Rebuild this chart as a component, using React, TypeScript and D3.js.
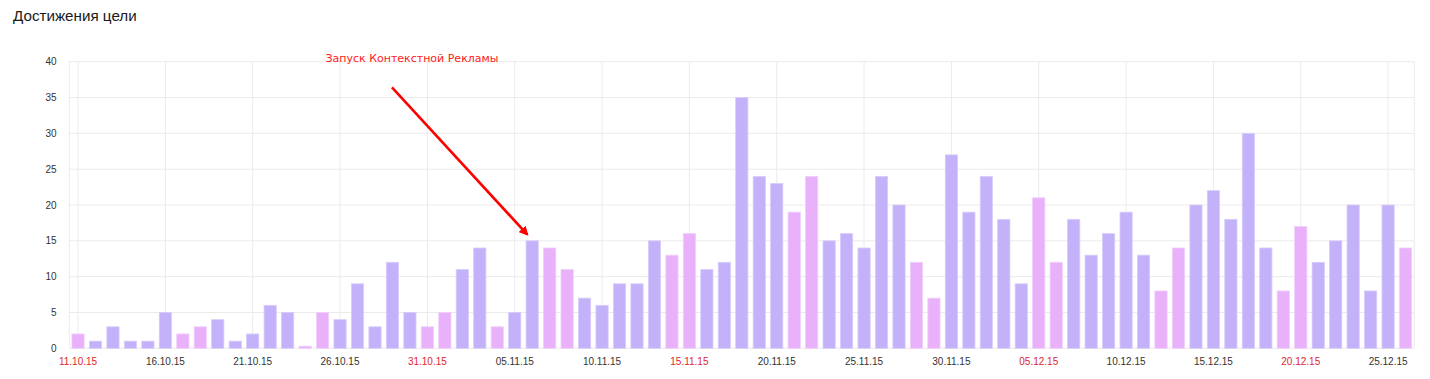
import React from "react";
import * as d3 from "d3";

const TITLE = "Достижения цели";
const ANNOTATION = "Запуск Контекстной Рекламы";
const START_DATE = "2015-10-11";
const END_DATE = "2015-12-26";
const HOLIDAYS = ["04.11.15"];
const values = [
  2, 1, 3, 1, 1, 5, 2, 3, 4, 1, 2, 6, 5, 0.3, 5, 4, 9, 3, 12, 5, 3,
  5, 11, 14, 3, 5, 15, 14, 11, 7, 6, 9, 9, 15, 13, 16, 11, 12, 35, 24, 23, 19, 24, 15, 16, 14, 24, 20, 12, 7,
  27, 19, 24, 18, 9, 21, 12, 18, 13, 16, 19, 13, 8, 14, 20, 22, 18, 30, 14, 8, 17, 12, 15, 20, 8, 20, 14,
];
const yTicks = [0, 5, 10, 15, 20, 25, 30, 35, 40];
const arrowFrom = { date: "29.10.15", value: 36.4 };
const arrowTo = { date: "06.11.15", value: 15.9 };

const fmt = d3.timeFormat("%d.%m.%y");
const parse = d3.timeParse("%Y-%m-%d");
const dayList = d3.timeDay.range(parse(START_DATE)!, d3.timeDay.offset(parse(END_DATE)!, 1));
const categories = dayList.map((d) => fmt(d));
const isOff = (i: number) => {
  const wd = dayList[i].getDay();
  return wd === 0 || wd === 6 || HOLIDAYS.includes(categories[i]);
};

export default function App() {
  const W = 1430, H = 379;
  const left = 69.3, right = 1414.3, top = 61.7, bottom = 348.3;
  const x = d3.scaleBand<string>().domain(categories).range([left, right]).paddingInner(0.3).paddingOuter(0.15);
  const y = d3.scaleLinear().domain([0, 40]).range([bottom, top]);
  const cx = (c: string) => (x(c) ?? 0) + x.bandwidth() / 2;
  const xTicks = categories.filter((_, i) => i % 5 === 0);
  const font = "'Liberation Sans', Arial, sans-serif";
  const ax1 = cx(arrowFrom.date) - 0.5, ay1 = y(arrowFrom.value);
  const ax2 = cx(arrowTo.date) - 5, ay2 = y(arrowTo.value);
  return (
    <svg width={W} height={H} style={{ position: "absolute", left: 0, top: 0, background: "#fff" }}>
      <defs>
        <marker id="arr" viewBox="0 0 10 10" refX="8" refY="5" markerWidth="3.6" markerHeight="3.6" orient="auto">
          <path d="M0,0 L10,5 L0,10 z" fill="#ff0000" />
        </marker>
      </defs>
      <text x={13} y={20.5} fontFamily={font} fontSize={15.2} fill="#1a1a1a">{TITLE}</text>
      {yTicks.map((t) => (
        <g key={t}>
          <line x1={left} x2={right} y1={y(t)} y2={y(t)} stroke="#ebebeb" strokeWidth={1} />
          <text x={56.5} y={y(t) + 3.5} textAnchor="end" fontFamily={font} fontSize={10} fill="#333">{t}</text>
        </g>
      ))}
      <line x1={left} x2={left} y1={top} y2={bottom} stroke="#ebebeb" />
      <line x1={right} x2={right} y1={top} y2={bottom} stroke="#ebebeb" />
      {xTicks.map((c) => {
        const i = categories.indexOf(c);
        return (
          <g key={c}>
            <line x1={cx(c)} x2={cx(c)} y1={top} y2={bottom} stroke="#ebebeb" />
            <text x={cx(c)} y={365} textAnchor="middle" fontFamily={font} fontSize={10} fill={isOff(i) ? "#e0262f" : "#333"}>{c}</text>
          </g>
        );
      })}
      {values.map((v, i) => (
        <rect
          key={i}
          x={x(categories[i])}
          y={y(v)}
          width={x.bandwidth()}
          height={y(0) - y(v)}
          fill={isOff(i) ? "#e8b1f9" : "#c3b1f9"}
          stroke={isOff(i) ? "#f0cffb" : "#d8cdfb"}
          strokeWidth={0.8}
        />
      ))}
      <text x={412} y={62} textAnchor="middle" fontFamily="'DejaVu Sans', sans-serif" fontSize={11} fill="#ff1a1a">{ANNOTATION}</text>
      <line x1={ax1} y1={ay1} x2={ax2} y2={ay2} stroke="#ff0000" strokeWidth={2.6} markerEnd="url(#arr)" />
    </svg>
  );
}
